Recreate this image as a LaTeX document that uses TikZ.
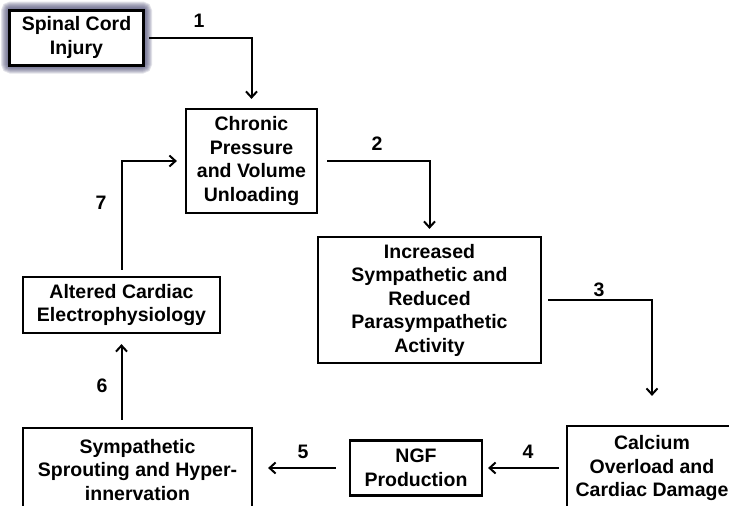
\documentclass[tikz,border=0pt]{standalone}
\usepackage{fontspec}
\setmainfont{Liberation Sans}
\usetikzlibrary{arrows.meta, backgrounds}
\definecolor{glowc}{RGB}{75,75,115}
\tikzset{
  box/.style={draw, line width=2.2pt, fill=white, inner sep=0pt, align=center,
    font=\fontsize{19.5}{23.5}\selectfont\bfseries},
  arr/.style={-{Straight Barb[length=6pt, width=11pt, line width=2pt]}, line width=2pt},
  num/.style={font=\fontsize{19.5}{22}\selectfont\bfseries},
  glowline/.style={draw=glowc, opacity=0.16, rounded corners=3pt},
}

\begin{document}
\begin{tikzpicture}[x=1pt, y=-1pt]
  \useasboundingbox (0,0) rectangle (729,506);

  % boxes
  \node[box, line width=3pt, minimum width=134pt, minimum height=55pt] (inj) at (76.5,37.5) {Spinal Cord\\Injury};
  \node[box, minimum width=131pt, minimum height=104pt] (chr) at (251.5,161) {Chronic\\Pressure\\and Volume\\Unloading};
  \node[box, minimum width=223pt, minimum height=126pt] (inc) at (429.5,300) {Increased\\Sympathetic and\\Reduced\\Parasympathetic\\Activity};
  \node[box, minimum width=170pt, minimum height=84pt] (cal) at (652,468) {Calcium\\Overload and\\Cardiac Damage};
  \node[box, minimum width=132pt, minimum height=55pt] (ngf) at (416,468) {NGF\\Production};
  \node[box, minimum width=229pt, minimum height=84pt] (spr) at (137.5,470) {Sympathetic\\Sprouting and Hyper-\\innervation};
  \node[box, minimum width=197pt, minimum height=56pt] (alt) at (121.5,305) {Altered Cardiac\\Electrophysiology};

  % glow round the first box
  \begin{scope}[on background layer, shift={(1.5,1.5)}]
    \foreach \g in {2,4,...,14}
      \draw[glowline, line width=\g pt] (inj.south west) rectangle (inj.north east);
  \end{scope}

  % connectors
  \draw[arr, shorten <=4pt, shorten >=9pt] (inj.east) -| (chr.north);
  \draw[arr, shorten <=9pt, shorten >=7pt] (chr.east) -| (inc.north);
  \draw[arr, shorten <=6pt, shorten >=29pt] (inc.east) -| (cal.north);
  \draw[arr, shorten <=7pt, shorten >=5pt] (cal.west) -- (ngf.east);
  \draw[arr, shorten <=13pt, shorten >=15pt] (ngf.west) -- (ngf.west -| spr.east);
  \draw[arr, shorten <=7pt, shorten >=10pt] (alt.south |- spr.north) -- (alt.south);
  \draw[arr, shorten <=6pt, shorten >=8pt] (alt.north) |- (chr.west);

  % step numbers
  \node[num] (n1) at (199,21) {1};
  \node[num] (n2) at (377,144) {2};
  \node[num] (n3) at (599,290) {3};
  \node[num] (n4) at (528,452) {4};
  \node[num] (n5) at (303,452) {5};
  \node[num] (n6) at (102,386) {6};
  \node[num] (n7) at (101,203) {7};
\end{tikzpicture}
\end{document}
